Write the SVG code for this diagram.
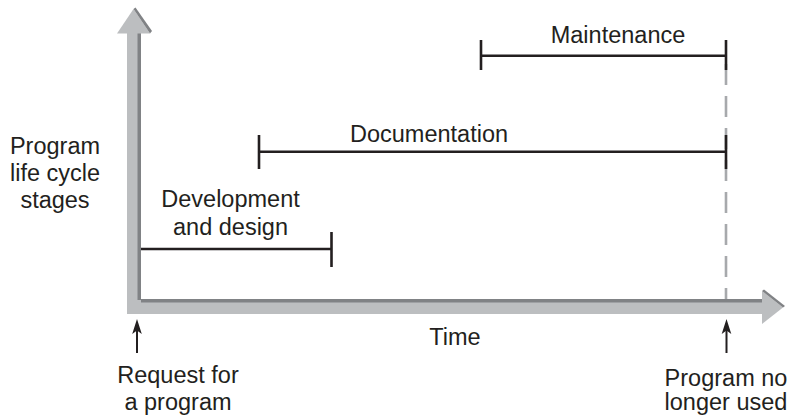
<svg xmlns="http://www.w3.org/2000/svg" width="792" height="418" viewBox="0 0 792 418">
<style>
.t{font-family:"Liberation Sans",Arial,sans-serif;font-size:23.5px;fill:#231f20;text-anchor:middle}
.bar{stroke:#231f20;stroke-width:2.6;fill:none}
.lt{fill:#bcbec0}
.dk{fill:#808285}
.ar{stroke:#231f20;stroke-width:2;fill:none}
.hd{fill:#231f20}
</style>
<rect width="792" height="418" fill="#fff"/>
<g id="axes">
<rect class="lt" x="127" y="30" width="11" height="284"/>
<rect class="dk" x="137.5" y="30" width="3.5" height="270"/>
<polygon class="lt" points="133.5,9 117,33.5 150,33.5"/>
<polygon class="dk" points="133.5,9 135.5,7.5 152,31 150,33.5"/>
<rect class="lt" x="127" y="300" width="637" height="14"/>
<rect class="dk" x="141" y="299" width="623" height="3.5"/>
<polygon class="lt" points="762,291 783,307.5 762,324"/>
<polygon class="dk" points="762,291 764,289.5 785,306 783,307.5"/>
</g>
<g id="connectors">
<line x1="726" y1="64" x2="726" y2="299" stroke="#a7a9ac" stroke-width="2.6" stroke-dasharray="21 11"/>
<line class="ar" x1="137" y1="353" x2="137" y2="328"/>
<polygon class="hd" points="137,319 141.8,334 137,330.5 132.2,334"/>
<line class="ar" x1="726.5" y1="353" x2="726.5" y2="328"/>
<polygon class="hd" points="726.5,319 731.3,334 726.5,330.5 721.7,334"/>
</g>
<g id="maintenance">
<path class="bar" d="M481 40 V70 M481 55.7 H726 M726 40 V70"/>
<text class="t" x="618" y="42.5">Maintenance</text>
</g>
<g id="documentation">
<path class="bar" d="M259 135 V169 M259 151.7 H726 M726 135 V169"/>
<text class="t" x="429" y="141.5">Documentation</text>
</g>
<g id="development">
<path class="bar" d="M141 249 H331.5 M331.5 232 V267"/>
<text class="t" x="230.5" y="207.3">Development</text>
<text class="t" x="230.5" y="235">and design</text>
</g>
<g id="ylabel">
<text class="t" x="55" y="153.5">Program</text>
<text class="t" x="55" y="181">life cycle</text>
<text class="t" x="55" y="207.5">stages</text>
</g>
<g id="xlabel">
<text class="t" x="455" y="345">Time</text>
</g>
<g id="start">
<text class="t" x="178" y="383">Request for</text>
<text class="t" x="178" y="410">a program</text>
</g>
<g id="end">
<text class="t" x="726" y="385.5">Program no</text>
<text class="t" x="726" y="410">longer used</text>
</g>
</svg>
